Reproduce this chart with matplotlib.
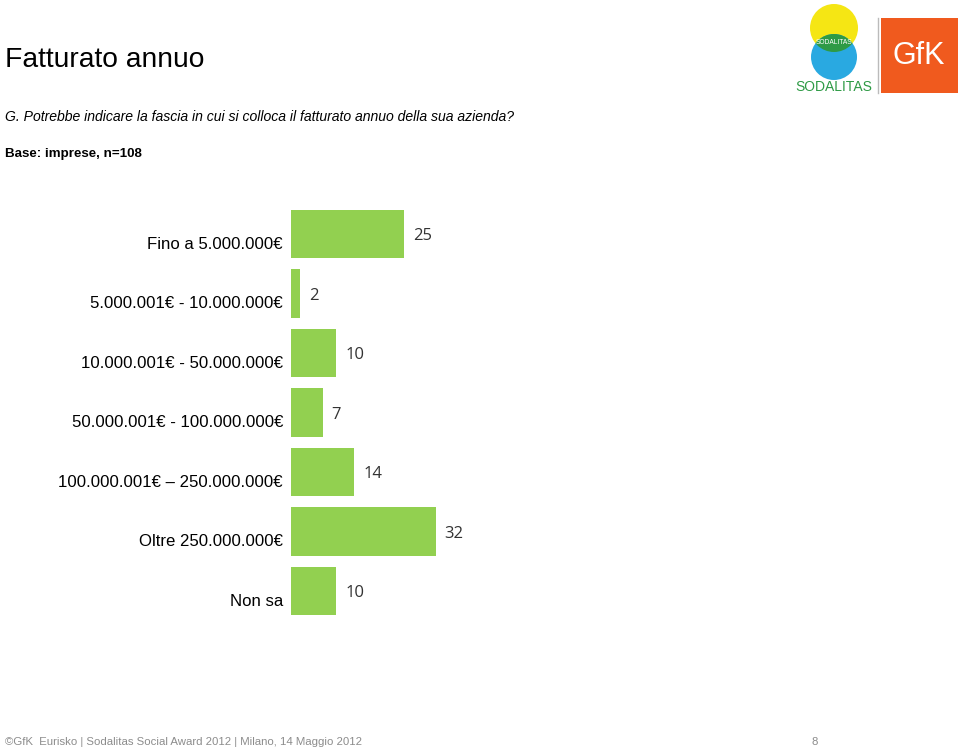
import matplotlib
matplotlib.use("Agg")
import matplotlib.pyplot as plt
from matplotlib.patches import Circle, Rectangle
import matplotlib.transforms as mtransforms

categories = [
    "Fino a 5.000.000€",
    "5.000.001€ - 10.000.000€",
    "10.000.001€ - 50.000.000€",
    "50.000.001€ - 100.000.000€",
    "100.000.001€ – 250.000.000€",
    "Oltre 250.000.000€",
    "Non sa",
]
values = [25, 2, 10, 7, 14, 32, 10]

title = "Fatturato annuo"
question = "G. Potrebbe indicare la fascia in cui si colloca il fatturato annuo della sua azienda?"
base = "Base: imprese, n=108"
footer = "©GfK  Eurisko | Sodalitas Social Award 2012 | Milano, 14 Maggio 2012"
page = "8"

W, H = 960, 752
fig = plt.figure(figsize=(W / 100, H / 100), dpi=100)
fig.patch.set_facecolor("white")

# overlay axes in pixel coords
ov = fig.add_axes([0, 0, 1, 1])
ov.set_xlim(0, W)
ov.set_ylim(H, 0)
ov.axis("off")

font = ["Liberation Sans", "DejaVu Sans"]
ov.text(5, 67, title, fontsize=20.3, family=font, color="black", va="baseline", ha="left")
ov.text(5, 121, question, fontsize=10.1, family=font, style="italic", color="black", va="baseline")
ov.text(5, 157, base, fontsize=9.6, family=font, weight="bold", color="black", va="baseline")
ov.text(5, 745, footer, fontsize=8.2, family=font, color="#8c8c8c", va="baseline")
ov.text(815, 745, page, fontsize=8.2, family=font, color="#8c8c8c", va="baseline", ha="center")

# logos
yel = Circle((834, 28), 24, facecolor="#f5e614", edgecolor="none")
blu = Circle((834, 57), 23, facecolor="#29a9e1", edgecolor="none")
ov.add_patch(yel)
ov.add_patch(blu)
grn = Circle((834, 57), 23, facecolor="#2e9a45", edgecolor="none")
ov.add_patch(grn)
grn.set_clip_path(yel)
ov.text(834, 42, "SODALITAS", fontsize=4.8, family=font, color="white", ha="center", va="center")
ov.text(834, 87, "SODALITAS", fontsize=10, family=font, color="#2e9a45", ha="center", va="center")
ov.plot([878, 878], [18, 93], color="#bbbbbb", lw=1)
ov.add_patch(Rectangle((881, 18), 77, 75, facecolor="#f05a1e", edgecolor="none"))
ov.text(919, 56, "GfK", fontsize=22, family=font, color="white", ha="center", va="center")

# bar chart
ax_left = 291 / W
ax_right = 1.0
ax_top = 1 - 204.25 / H
ax_bot = 1 - 620.75 / H
ax = fig.add_axes([ax_left, ax_bot, ax_right - ax_left, ax_top - ax_bot])
ax.set_xlim(0, (W - 291) / 4.52)
ax.set_ylim(len(categories) - 0.5, -0.5)
ax.axis("off")
ypos = list(range(len(categories)))
ax.barh(ypos, values, height=0.81, color="#92d050", edgecolor="none")

lab_off = mtransforms.offset_copy(ax.transData, fig=fig, x=-8, y=-10, units="dots")
val_off = mtransforms.offset_copy(ax.transData, fig=fig, x=9, y=-2, units="dots")
for y, c, v in zip(ypos, categories, values):
    ax.text(0, y, c, transform=lab_off, ha="right", va="center", fontsize=12.1,
            family=font, color="black")
    ax.text(v, y, str(v), transform=val_off, ha="left", va="center", fontsize=12,
            family=["Open Sans", "DejaVu Sans"], color="#333333")

fig.savefig("out.png", dpi=100, facecolor="white")
